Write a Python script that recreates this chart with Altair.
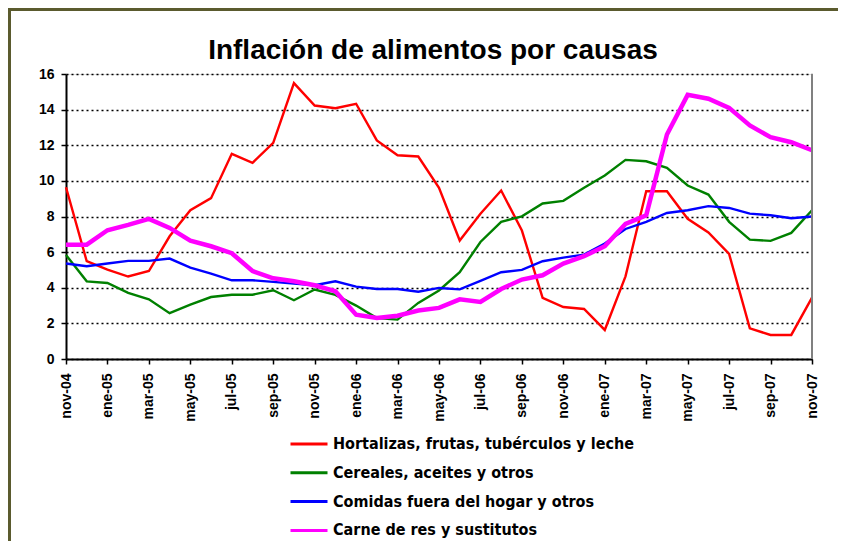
import altair as alt
import pandas as pd

months = ["nov-04", "dic-04", "ene-05", "feb-05", "mar-05", "abr-05", "may-05", "jun-05",
          "jul-05", "ago-05", "sep-05", "oct-05", "nov-05", "dic-05", "ene-06", "feb-06",
          "mar-06", "abr-06", "may-06", "jun-06", "jul-06", "ago-06", "sep-06", "oct-06",
          "nov-06", "dic-06", "ene-07", "feb-07", "mar-07", "abr-07", "may-07", "jun-07",
          "jul-07", "ago-07", "sep-07", "oct-07", "nov-07"]
tick_months = months[::2]

series_names = ["Hortalizas, frutas, tubérculos y leche",
                "Cereales, aceites y otros",
                "Comidas fuera del hogar y otros",
                "Carne de res y sustitutos"]
series_colors = ["#FF0000", "#008000", "#0000FF", "#FF00FF"]
series_widths = [2.4, 2.4, 2.4, 4.5]

hortalizas = [9.64, 5.49, 5.02, 4.63, 4.94, 6.89, 8.35, 9.03, 11.52, 11.01, 12.13, 15.49, 14.23,
              14.08, 14.33, 12.27, 11.44, 11.37, 9.61, 6.65, 8.16, 9.46, 7.21, 3.43, 2.92, 2.81,
              1.63, 4.64, 9.42, 9.42, 7.87, 7.10, 5.90, 1.72, 1.35, 1.35, 3.45]
cereales = [5.84, 4.36, 4.27, 3.71, 3.35, 2.57, 3.05, 3.48, 3.61, 3.61, 3.86, 3.30, 3.90, 3.60,
            3.00, 2.30, 2.21, 3.15, 3.85, 4.87, 6.57, 7.70, 8.01, 8.73, 8.88, 9.61, 10.30, 11.18,
            11.10, 10.73, 9.74, 9.23, 7.70, 6.70, 6.63, 7.08, 8.35]
comidas = [5.36, 5.21, 5.36, 5.51, 5.51, 5.64, 5.13, 4.79, 4.42, 4.42, 4.33, 4.23, 4.14, 4.36,
           4.06, 3.93, 3.93, 3.78, 3.99, 3.91, 4.38, 4.87, 5.00, 5.49, 5.69, 5.86, 6.48, 7.30,
           7.70, 8.20, 8.35, 8.58, 8.48, 8.16, 8.07, 7.90, 8.00]
carne = [6.42, 6.42, 7.23, 7.53, 7.87, 7.36, 6.65, 6.33, 5.94, 4.94, 4.53, 4.36, 4.14, 3.80,
         2.49, 2.30, 2.43, 2.72, 2.87, 3.35, 3.20, 3.93, 4.46, 4.70, 5.36, 5.77, 6.33, 7.58,
         8.07, 12.60, 14.83, 14.61, 14.10, 13.11, 12.45, 12.17, 11.72]
y_ticks = [0, 2, 4, 6, 8, 10, 12, 14, 16]

all_values = [hortalizas, cereales, comidas, carne]
rows = []
for name, vals in zip(series_names, all_values):
    for m, v in zip(months, vals):
        rows.append({"mes": m, "valor": v, "serie": name})
df = pd.DataFrame(rows)

FONT = "Liberation Sans"
LEGEND_FONT = "DejaVu Sans Condensed"

x_enc = alt.X("mes:N", sort=months,
              scale=alt.Scale(type="point", padding=0, domain=months),
              axis=alt.Axis(values=tick_months, title=None, labelAngle=-90,
                            labelFont=FONT, labelFontSize=14, labelFontWeight="bold",
                            labelColor="black", labelAlign="right", labelBaseline="middle",
                            labelPadding=9, tickSize=5, tickColor="black", tickWidth=1.5,
                            domainColor="black", domainWidth=2, grid=False))
y_enc = alt.Y("valor:Q", scale=alt.Scale(domain=[0, 16], nice=False),
              axis=alt.Axis(values=y_ticks, title=None, labelFont=FONT, labelFontSize=14,
                            labelFontWeight="bold", labelColor="black", labelPadding=7,
                            labelOverlap=False, tickSize=5, tickColor="black", tickWidth=1.5,
                            domainColor="black", domainWidth=2,
                            grid=True, gridColor="black", gridDash=[2, 3], gridWidth=1.5))
color_enc = alt.Color("serie:N",
                      scale=alt.Scale(domain=series_names, range=series_colors),
                      legend=alt.Legend(title=None, orient="none", legendX=223, legendY=350,
                                        direction="vertical", padding=0,
                                        symbolType="stroke", symbolSize=1369,
                                        symbolStrokeWidth=3, labelFont=LEGEND_FONT,
                                        labelFontSize=16, labelFontWeight="bold",
                                        labelColor="black", labelOffset=4,
                                        rowPadding=0.8, labelLimit=0))

layers = []
for name, w in zip(series_names, series_widths):
    layers.append(
        alt.Chart(df).transform_filter(alt.datum.serie == name)
        .mark_line(strokeWidth=w)
        .encode(x=x_enc, y=y_enc, color=color_enc)
    )

right_border = alt.Chart(df).mark_rule(color="#808080", strokeWidth=1.5).encode(
    x=alt.value(746), y=alt.value(0), y2=alt.value(285))

frame_top = alt.Chart(df).mark_rule(color="#5b5b2e", strokeWidth=3).encode(
    x=alt.value(-58), x2=alt.value(800), y=alt.value(-65))
frame_left = alt.Chart(df).mark_rule(color="#5b5b2e", strokeWidth=3).encode(
    x=alt.value(-57), y=alt.value(-66), y2=alt.value(480))

chart = alt.layer(*layers, right_border, frame_top, frame_left).properties(
    width=746, height=285,
    title=alt.Title("Inflación de alimentos por causas", font=FONT, fontSize=28,
                    fontWeight="bold", color="black", anchor="middle", dx=-6,
                    baseline="alphabetic", offset=0, dy=80.5),
    autosize=alt.AutoSizeParams(type="none"),
    padding={"left": 58, "top": 66, "right": 26, "bottom": 182},
).configure_view(stroke=None).configure(background="white")

chart.save("out.html", embed_options={"renderer": "svg", "actions": False})
